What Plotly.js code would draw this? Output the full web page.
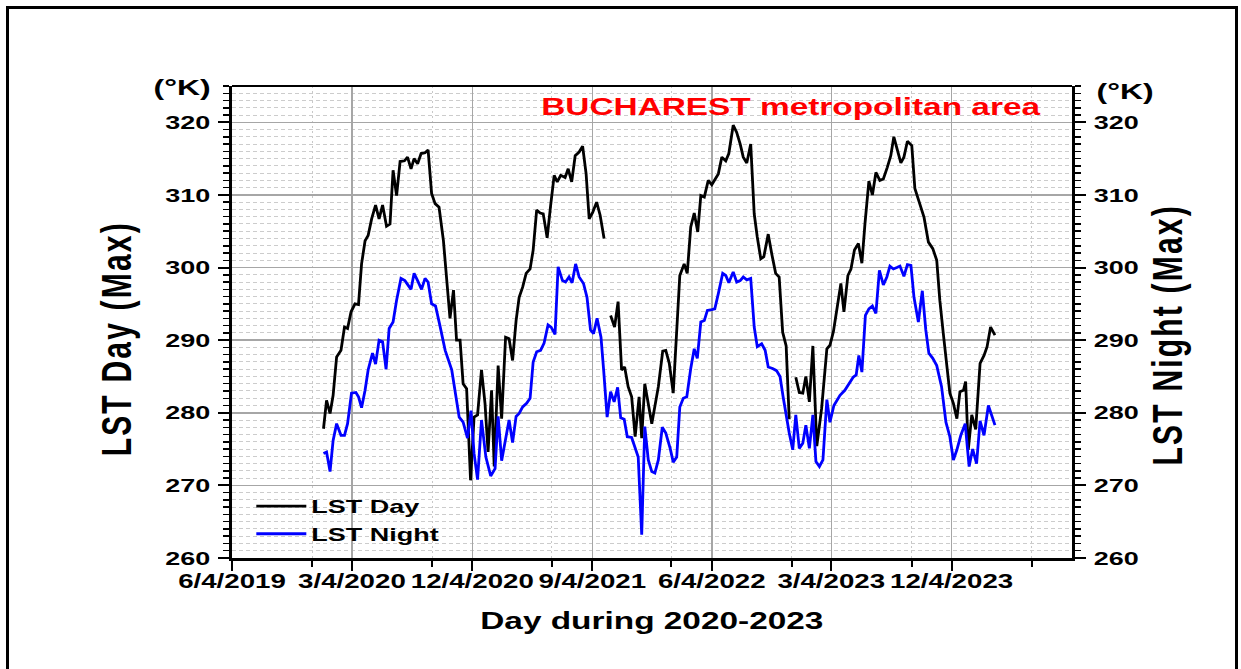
<!DOCTYPE html>
<html><head><meta charset="utf-8">
<script src="https://cdn.plot.ly/plotly-3.0.1.min.js"></script>
<style>
html,body{margin:0;padding:0;background:#fff;}
#wrap{position:relative;width:1241px;height:669px;overflow:hidden;background:#fff;}
#chart{position:absolute;left:0;top:0;width:1241px;height:669px;}
#frame{position:absolute;left:6px;top:6px;width:1232px;height:700px;border:3px solid #000;box-sizing:border-box;pointer-events:none;}
</style></head>
<body><div id="wrap"><div id="chart"></div><div id="frame"></div></div>
<script>
// ---- data ----
const dayDates = ['2019-12-30','2020-01-06','2020-01-14','2020-01-21','2020-01-29','2020-02-08','2020-02-16','2020-02-23','2020-03-02','2020-03-11','2020-03-19','2020-03-26','2020-04-03','2020-04-10','2020-04-18','2020-04-27','2020-05-05','2020-05-13','2020-05-22','2020-05-30','2020-06-06','2020-06-14','2020-06-22','2020-07-02','2020-07-09','2020-07-17','2020-07-24','2020-08-01','2020-08-09','2020-08-18','2020-08-25','2020-09-02','2020-09-10','2020-09-19','2020-09-29','2020-10-06','2020-10-14','2020-10-22','2020-10-29','2020-11-06','2020-11-13','2020-11-21','2020-11-30','2020-12-08','2020-12-16','2020-12-25','2021-01-02','2021-01-09','2021-01-17','2021-01-23','2021-02-01','2021-02-09','2021-02-18','2021-02-26','2021-03-06','2021-03-14','2021-03-21','2021-03-29','2021-04-06','2021-04-15','2021-04-22','2021-04-30','2021-05-08','2021-05-15','2021-05-24','2021-06-01','2021-06-09','2021-06-16','2021-06-24','2021-07-04','2021-07-11','2021-07-19','2021-07-27','2021-08-05','2021-08-13','2021-08-21','2021-08-28','2021-09-05','2021-09-14','2021-09-22','2021-10-01','2021-10-08','2021-10-16','2021-10-25','2021-11-02','2021-11-10','2021-11-17','2021-11-25','2021-12-03','2021-12-11','2021-12-20','2021-12-26','2022-01-02','2022-01-18','2022-02-02','2022-02-12','2022-02-19','2022-02-27','2022-03-08','2022-03-16','2022-03-23','2022-04-02','2022-04-09','2022-04-17','2022-04-25','2022-05-03','2022-05-10','2022-05-18','2022-05-27','2022-06-04','2022-06-11','2022-06-19','2022-06-27','2022-07-06','2022-07-13','2022-07-23','2022-07-31','2022-08-08','2022-08-15','2022-08-23','2022-09-01','2022-09-09','2022-09-16','2022-09-24','2022-10-01','2022-10-11','2022-10-19','2022-10-28','2022-11-05','2022-11-13','2022-11-21','2022-11-28','2022-12-06','2022-12-13','2022-12-21','2022-12-29','2023-01-05','2023-01-13','2023-01-21','2023-01-30','2023-02-10','2023-02-22','2023-03-01','2023-03-09','2023-03-16','2023-03-26','2023-04-02','2023-04-11','2023-04-18','2023-04-26','2023-05-05','2023-05-13','2023-05-20','2023-05-29','2023-06-06','2023-06-14','2023-06-23','2023-07-01','2023-07-10','2023-07-18','2023-07-25','2023-08-02','2023-08-10','2023-08-17','2023-08-25','2023-09-04','2023-09-11','2023-09-21','2023-10-02','2023-10-12','2023-10-22','2023-10-31','2023-11-07','2023-11-15','2023-11-23','2023-11-30','2023-12-08','2023-12-16','2023-12-23','2023-12-31','2024-01-05','2024-01-11','2024-01-19','2024-01-28','2024-02-07','2024-02-16','2024-02-23','2024-03-02','2024-03-12'];
const dayLST = [277.8,281.7,279.9,282.4,287.7,288.6,291.8,291.6,293.9,295.0,294.9,300.5,303.7,304.4,306.7,308.6,306.7,308.6,305.7,306.0,313.4,309.9,314.6,314.7,315.2,313.6,315.0,314.3,315.7,315.8,316.2,310.2,308.8,308.3,303.7,299.2,293.0,296.9,290.0,290.0,284.0,283.3,270.7,279.4,279.7,285.9,281.3,274.6,283.1,272.6,286.5,279.2,290.4,290.2,287.2,292.7,295.9,297.3,299.2,299.8,302.4,307.9,307.5,307.4,304.1,308.6,312.7,311.8,312.7,312.4,313.6,311.8,315.4,315.9,316.7,312.9,306.7,307.6,309.0,307.2,304.0,null,293.4,291.8,295.3,285.9,286.3,283.6,282.2,276.7,282.2,276.5,284.0,278.5,283.6,288.5,288.6,286.8,282.7,290.9,298.9,300.5,299.2,305.6,307.5,304.9,309.9,309.7,312.0,311.4,312.2,312.9,315.2,314.7,315.7,319.6,318.6,317.0,315.2,314.4,317.0,307.4,304.2,301.2,301.5,304.6,301.9,299.2,298.7,291.1,289.2,279.1,null,284.9,282.8,282.7,285.0,281.5,289.2,275.4,280.6,288.8,289.3,291.2,293.7,297.8,293.9,298.9,299.8,302.4,303.3,300.6,306.0,311.9,310.0,313.1,312.0,312.2,313.8,315.4,318.0,316.1,314.4,315.2,317.4,316.8,310.9,309.0,306.9,303.5,302.6,301.0,295.5,290.9,286.8,282.7,281.3,279.2,282.9,283.1,284.3,274.9,279.7,277.7,286.8,287.9,289.1,291.8,290.7];

const nightDates = ['2019-12-30','2020-01-06','2020-01-14','2020-01-21','2020-01-29','2020-02-08','2020-02-16','2020-02-23','2020-03-03','2020-03-13','2020-03-19','2020-03-26','2020-04-03','2020-04-10','2020-04-20','2020-04-27','2020-05-05','2020-05-13','2020-05-21','2020-05-28','2020-06-06','2020-06-14','2020-06-24','2020-07-03','2020-07-17','2020-07-24','2020-08-01','2020-08-10','2020-08-18','2020-08-25','2020-09-02','2020-09-11','2020-09-21','2020-10-03','2020-10-18','2020-11-04','2020-11-13','2020-11-23','2020-12-01','2020-12-08','2020-12-16','2020-12-25','2021-01-04','2021-01-15','2021-01-25','2021-02-01','2021-02-09','2021-02-18','2021-02-26','2021-03-06','2021-03-14','2021-03-21','2021-03-29','2021-04-07','2021-04-15','2021-04-22','2021-04-30','2021-05-09','2021-05-17','2021-05-26','2021-06-02','2021-06-11','2021-06-18','2021-06-28','2021-07-05','2021-07-13','2021-07-20','2021-07-28','2021-08-05','2021-08-15','2021-08-23','2021-08-31','2021-09-07','2021-09-15','2021-09-24','2021-09-30','2021-10-08','2021-10-16','2021-10-24','2021-11-01','2021-11-08','2021-11-16','2021-11-23','2021-12-03','2021-12-11','2021-12-18','2021-12-26','2022-01-02','2022-01-10','2022-01-18','2022-01-25','2022-02-02','2022-02-11','2022-02-19','2022-03-01','2022-03-08','2022-03-16','2022-03-23','2022-03-31','2022-04-08','2022-04-17','2022-04-25','2022-05-02','2022-05-10','2022-05-18','2022-05-25','2022-06-04','2022-06-11','2022-06-19','2022-06-29','2022-07-06','2022-07-13','2022-07-23','2022-07-31','2022-08-08','2022-08-15','2022-08-23','2022-09-01','2022-09-09','2022-09-16','2022-09-26','2022-10-04','2022-10-11','2022-10-21','2022-10-30','2022-11-07','2022-11-14','2022-11-22','2022-11-28','2022-12-06','2022-12-13','2022-12-21','2022-12-29','2023-01-05','2023-01-13','2023-01-21','2023-01-28','2023-02-05','2023-02-13','2023-02-22','2023-03-01','2023-03-10','2023-03-24','2023-04-04','2023-04-14','2023-04-23','2023-04-30','2023-05-06','2023-05-13','2023-05-21','2023-05-29','2023-06-06','2023-06-14','2023-06-22','2023-07-01','2023-07-09','2023-07-16','2023-07-24','2023-08-01','2023-08-08','2023-08-17','2023-08-25','2023-09-02','2023-09-09','2023-09-19','2023-09-28','2023-10-06','2023-10-13','2023-10-22','2023-10-31','2023-11-11','2023-11-21','2023-11-30','2023-12-08','2023-12-16','2023-12-25','2024-01-04','2024-01-13','2024-01-21','2024-01-30','2024-02-07','2024-02-16','2024-02-26','2024-03-12'];
const nightLST = [274.4,274.6,271.9,276.2,278.5,276.9,276.9,278.5,282.7,282.8,282.2,280.7,283.1,285.9,288.2,286.7,290.0,289.8,286.0,291.6,292.5,295.5,298.5,298.2,297.0,299.2,298.2,297.0,298.5,298.0,295.0,294.7,292.0,288.6,285.9,279.4,278.7,276.5,280.3,274.4,270.8,279.0,273.9,271.3,272.3,279.5,273.4,276.7,279.0,275.9,279.5,279.9,280.8,281.3,282.0,287.0,288.4,288.6,289.6,292.1,291.8,290.8,300.1,298.2,298.0,298.7,297.9,300.5,298.7,297.8,295.9,291.4,290.9,293.0,290.4,285.9,279.4,282.9,281.5,283.5,279.3,279.1,276.7,276.6,275.1,273.9,263.2,278.1,273.5,271.9,271.7,273.5,278.0,277.2,275.1,273.2,273.9,280.8,282.0,282.2,286.1,288.8,287.5,292.5,292.7,294.1,294.2,294.3,296.4,299.2,298.9,297.9,299.4,298.0,298.2,298.7,298.3,298.5,291.8,289.1,289.5,288.6,286.3,286.1,285.8,285.0,282.2,279.0,277.2,274.9,279.7,275.1,275.8,278.3,275.1,279.7,273.3,272.6,273.5,281.8,278.7,281.0,282.4,283.1,284.0,284.9,285.2,287.9,285.6,293.4,294.3,294.7,293.7,299.6,297.6,298.7,300.2,299.8,300.0,300.2,298.8,300.4,300.3,295.9,292.5,296.8,291.4,288.2,287.5,286.5,283.6,278.7,276.7,273.5,274.9,276.9,278.5,272.6,275.0,273.0,278.9,276.9,281.0,278.3];

const tickDates  = ['2019-06-04','2020-03-04','2020-12-04','2021-09-04','2022-06-04','2023-03-04','2023-12-04'];
const tickLabels = ['6/4/2019','3/4/2020','12/4/2020','9/4/2021','6/4/2022','3/4/2023','12/4/2023'];
const minorTickDates = ['2019-12-04','2020-09-04','2021-06-04','2022-03-04','2022-12-04','2023-09-04','2024-06-04'];
const xRange = ['2019-06-04','2024-09-04'];
const yRange = [260, 325];

const seriesNames = ['LST Day','LST Night'];
const chartTitle = 'BUCHAREST metropolitan area';
const yTitleLeft = 'LST Day (Max)';
const yTitleRight = 'LST Night (Max)';
const xTitle = 'Day during 2020-2023';
const unitLabel = '(°K)';

// ---- drawing ----
const FONT = 'Liberation Sans, Arial, Helvetica, sans-serif';
const bold = (s, c) => ({family: FONT, size: s, color: c || '#000', weight: 'bold'});

const traces = [
  {x: dayDates, y: dayLST, name: seriesNames[0], type: 'scatter', mode: 'lines',
   line: {color: '#000000', width: 2.8}, connectgaps: false, xaxis: 'x', yaxis: 'y'},
  {x: nightDates, y: nightLST, name: seriesNames[1], type: 'scatter', mode: 'lines',
   line: {color: '#0000ff', width: 2.8}, connectgaps: false, xaxis: 'x', yaxis: 'y2'}
];

const yCommon = {
  range: yRange, tickmode: 'linear', tick0: 0, dtick: 10,
  ticks: 'outside', ticklen: 11, tickwidth: 2, tickcolor: '#000',
  showline: true, linecolor: '#000', linewidth: 3,
  tickfont: bold(19), ticklabelstandoff: 4, zeroline: false,
  minor: {dtick: 1, ticks: 'outside', ticklen: 6, tickwidth: 1.5, tickcolor: '#000'}
};

const layout = {
  width: 1241, height: 669,
  margin: {l: 232, r: 169, t: 86, b: 111, pad: 0},
  paper_bgcolor: '#ffffff', plot_bgcolor: '#ffffff',
  font: bold(19),
  showlegend: true,
  legend: {x: 0.023, y: 0.15, xanchor: 'left', yanchor: 'top', bgcolor: 'rgba(0,0,0,0)',
           borderwidth: 0, font: bold(19), itemwidth: 50, tracegroupgap: 0},
  xaxis: {
    type: 'date', range: xRange, tickmode: 'array', tickvals: tickDates, ticktext: tickLabels,
    ticks: 'outside', ticklen: 10, tickwidth: 2, tickcolor: '#000',
    showline: true, linecolor: '#000', linewidth: 3, mirror: false,
    showgrid: true, gridcolor: '#a6a6a6', gridwidth: 1.5,
    tickfont: bold(19.5), ticklabelstandoff: -6, zeroline: false,
    minor: {tickmode: 'array', tickvals: minorTickDates, ticks: 'outside', ticklen: 6, tickwidth: 2,
            tickcolor: '#000', showgrid: true, gridcolor: '#c8c8c8', gridwidth: 1, griddash: '2px,3px'}
  },
  yaxis: Object.assign({}, yCommon, {
    side: 'left', showgrid: true, gridcolor: '#a6a6a6', gridwidth: 1.5,
    minor: Object.assign({}, yCommon.minor, {showgrid: true, gridcolor: '#cccccc', gridwidth: 1, griddash: '4px,3px'})
  }),
  yaxis2: Object.assign({}, yCommon, {
    side: 'right', overlaying: 'y', showgrid: false,
    minor: Object.assign({}, yCommon.minor, {showgrid: false})
  }),
  shapes: [
    {type: 'line', xref: 'paper', yref: 'paper', x0: 0, x1: 1, y0: 1, y1: 1,
     line: {color: '#000', width: 2}}
  ],
  annotations: [
    {text: chartTitle, xref: 'paper', yref: 'paper', x: 0.6655, y: 0.9555,
     xanchor: 'center', yanchor: 'middle', showarrow: false, font: bold(23.5, '#ff0000')},
    {text: unitLabel, xref: 'paper', yref: 'paper', x: -0.0595, y: 0.9958,
     xanchor: 'center', yanchor: 'middle', showarrow: false, font: bold(22.5)},
    {text: unitLabel, xref: 'paper', yref: 'paper', x: 1.0631, y: 0.9873,
     xanchor: 'center', yanchor: 'middle', showarrow: false, font: bold(22.5)},
    {text: yTitleLeft, xref: 'paper', yref: 'paper', x: -0.132, y: 0.464, textangle: -90,
     xanchor: 'center', yanchor: 'middle', showarrow: false, font: bold(30)},
    {text: yTitleRight, xref: 'paper', yref: 'paper', x: 1.119, y: 0.4725, textangle: -90,
     xanchor: 'center', yanchor: 'middle', showarrow: false, font: bold(30)},
    {text: xTitle, xref: 'paper', yref: 'paper', x: 0.5, y: -0.1335,
     xanchor: 'center', yanchor: 'middle', showarrow: false, font: bold(23.5)}
  ]
};

// The reference picture is stretched horizontally; widen every text the same way, about its own anchor.
function stretchTexts(gd, sx) {
  gd.querySelectorAll('svg text').forEach(t => {
    const own = t.getCTM();
    const par = t.parentNode && t.parentNode.getCTM ? t.parentNode.getCTM() : null;
    if (!own || !par) return;
    const M = DOMMatrix.fromMatrix(own);
    const Pm = DOMMatrix.fromMatrix(par);
    const x = parseFloat(t.getAttribute('x')) || 0;
    const y = parseFloat(t.getAttribute('y')) || 0;
    const P = new DOMPoint(x, y).matrixTransform(M);
    const S = new DOMMatrix().translate(P.x, P.y).scale(sx, 1).translate(-P.x, -P.y);
    const L = Pm.inverse().multiply(S).multiply(M);
    t.setAttribute('transform', `matrix(${L.a},${L.b},${L.c},${L.d},${L.e},${L.f})`);
  });
}

const gd = document.getElementById('chart');
Plotly.newPlot(gd, traces, layout, {staticPlot: true, displayModeBar: false}).then(() => {
  // let the legend show its widened text
  gd.querySelectorAll('.legend [clip-path], .legend').forEach(el => el.removeAttribute('clip-path'));
  // the rotated axis titles are letter-spaced in the reference
  gd.querySelectorAll('.annotation-text').forEach(t => {
    if (t.textContent === yTitleLeft || t.textContent === yTitleRight) t.style.letterSpacing = '2.2px';
  });
  stretchTexts(gd, 1.42);
});
</script>
</body></html>
